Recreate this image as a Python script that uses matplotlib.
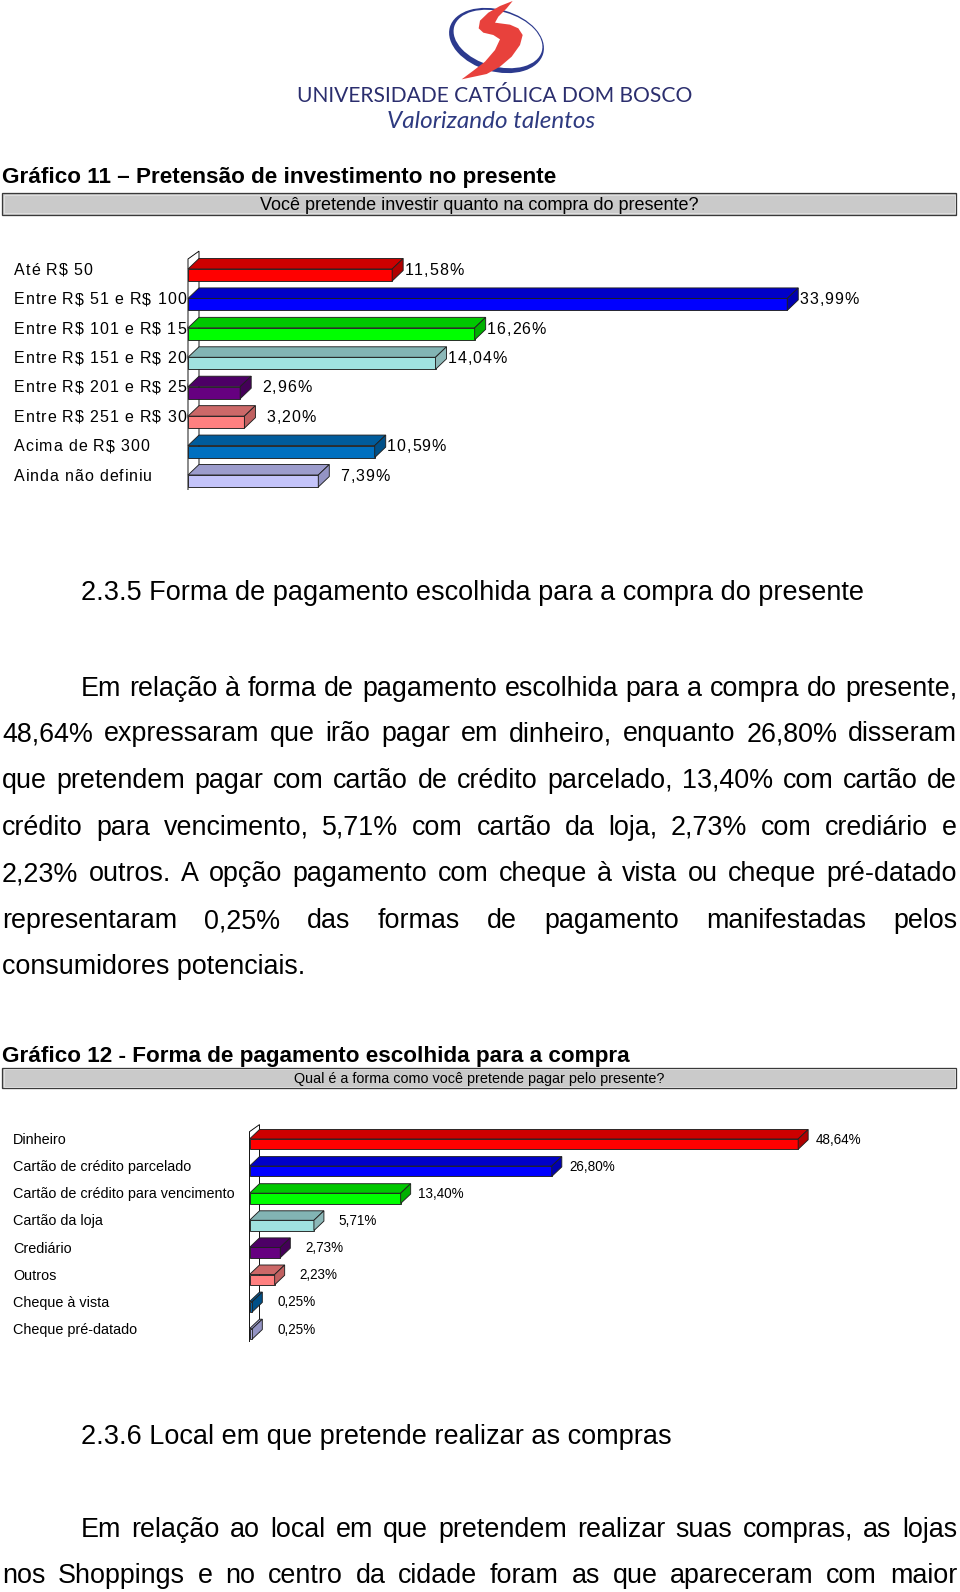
import matplotlib
matplotlib.use('Agg')
import matplotlib.pyplot as plt
from matplotlib.patches import Polygon, Rectangle, Ellipse
from matplotlib import font_manager
from matplotlib.font_manager import FontProperties, findfont, get_font
try:
    from matplotlib.ft2font import LoadFlags
    NOH = LoadFlags.NO_HINTING
except ImportError:
    from matplotlib.ft2font import LOAD_NO_HINTING as NOH

# ---------------- data ----------------
cats1 = ["Até R$ 50", "Entre R$ 51 e R$ 100", "Entre R$ 101 e R$ 150",
         "Entre R$ 151 e R$ 200", "Entre R$ 201 e R$ 250", "Entre R$ 251 e R$ 300",
         "Acima de R$ 300", "Ainda não definiu"]
vals1 = [11.58, 33.99, 16.26, 14.04, 2.96, 3.20, 10.59, 7.39]

cats2 = ["Dinheiro", "Cartão de crédito parcelado", "Cartão de crédito para vencimento",
         "Cartão da loja", "Crediário", "Outros", "Cheque à vista", "Cheque pré-datado"]
vals2 = [48.64, 26.80, 13.40, 5.71, 2.73, 2.23, 0.25, 0.25]

front_colors = ["#FF0000", "#0000FF", "#00FF00", "#A0E2E0",
                "#660080", "#FF8080", "#0070C0", "#C4C4FA"]
top_colors = ["#CC0000", "#0000C8", "#00C800", "#82B4B4",
              "#4D0066", "#CC6868", "#005C9C", "#9C9CCC"]
side_colors = ["#B00000", "#0000B0", "#00B000", "#8CB8B8",
               "#440058", "#C06060", "#005088", "#9494C4"]

title1 = "Gráfico 11 – Pretensão de investimento no presente"
question1 = "Você pretende investir quanto na compra do presente?"
heading1 = "2.3.5 Forma de pagamento escolhida para a compra do presente"
para1 = ["Em relação à forma de pagamento escolhida para a compra do presente,",
         "48,64% expressaram que irão pagar em dinheiro, enquanto 26,80% disseram",
         "que pretendem pagar com cartão de crédito parcelado, 13,40% com cartão de",
         "crédito para vencimento, 5,71% com cartão da loja, 2,73% com crediário e",
         "2,23% outros. A opção pagamento com cheque à vista ou cheque pré-datado",
         "representaram 0,25% das formas de pagamento manifestadas pelos",
         "consumidores potenciais."]
title2 = "Gráfico 12 - Forma de pagamento escolhida para a compra"
question2 = "Qual é a forma como você pretende pagar pelo presente?"
heading2 = "2.3.6 Local em que pretende realizar as compras"
para2 = ["Em relação ao local em que pretendem realizar suas compras, as lojas",
         "nos Shoppings e no centro da cidade foram as que apareceram com maior"]
logo_name = "UNIVERSIDADE CATÓLICA DOM BOSCO"
logo_motto = "Valorizando talentos"

# ---------------- setup ----------------
W, H, DPI = 960, 1592, 100
names = {f.name for f in font_manager.fontManager.ttflist}
SANS = "Liberation Sans"
NARROW = "Liberation Sans Narrow" if "Liberation Sans Narrow" in names else SANS
LOGOF = "Lato" if "Lato" in names else "DejaVu Sans"

fig = plt.figure(figsize=(W / DPI, H / DPI), dpi=DPI)
pg = fig.add_axes([0, 0, 1, 1])
pg.set_xlim(0, W)
pg.set_ylim(H, 0)
pg.axis('off')
renderer = fig.canvas.get_renderer()


def pt(px):
    return px * 72.0 / DPI


def twidth(s, size, **kw):
    t = pg.text(0, 0, s, fontsize=size, **kw)
    w = t.get_window_extent(renderer).width
    t.remove()
    return w


def fit(s, target, **kw):
    return 20.0 * target / twidth(s, 20.0, **kw)


def put(x, yc, s, size, ha='left', **kw):
    base = yc + 0.36 * size * DPI / 72.0
    return pg.text(x, base, s, fontsize=size, ha=ha, va='baseline', **kw)


def justified(line, left, right, yc, size, justify=True, **kw):
    words = line.split(' ')
    if not justify or len(words) == 1:
        put(left, yc, line, size, **kw)
        return
    ws = [twidth(w, size, **kw) for w in words]
    gap = (right - left - sum(ws)) / (len(words) - 1)
    x = left
    for i, (w, wd) in enumerate(zip(words, ws)):
        if i == len(words) - 1:
            put(right, yc, w, size, ha='right', **kw)
        else:
            put(x, yc, w, size, **kw)
        x += wd + gap


def spaced(x, yc, s, px, spacing, ha='left', clip=None, family=SANS, color='black'):
    font = get_font(findfont(FontProperties(family=family)))
    font.set_size(pt(px), DPI)
    advs = [font.load_char(ord(c), flags=NOH).linearHoriAdvance / 65536.0 for c in s]
    total = sum(advs) + spacing * (len(s) - 1)
    if ha == 'right':
        x -= total
    base = yc + 0.36 * px
    for c, a in zip(s, advs):
        if c != ' ':
            t = pg.text(x, base, c, fontsize=pt(px), family=family, va='baseline',
                        ha='left', color=color)
            if clip is not None:
                t.set_clip_path(clip)
        x += a + spacing


def to_page(ax, x, y):
    d = ax.transData.transform((x, y))
    return pg.transData.inverted().transform(d)


def bar3d(vals, x0, sx, xmax, row0_top, step, hf, dx, dy, wall_top, wall_bot):
    n = len(vals)
    c0 = row0_top + hf / 2.0
    ytop, ybot = -1.0, n - 0.4
    top_px = c0 + ytop * step
    bot_px = c0 + ybot * step
    ax = fig.add_axes([x0 / W, 1 - bot_px / H, sx * xmax / W, (bot_px - top_px) / H])
    ax.set_xlim(0, xmax)
    ax.set_ylim(ybot, ytop)
    ax.axis('off')
    h = hf / step
    ddx = dx / sx
    ddy = dy / step
    lw = pt(0.9)
    wt = (wall_top - c0) / step
    wb = (wall_bot - c0) / step
    ax.add_patch(Polygon([(0, wb), (0, wt), (ddx, wt - ddy * 0.75), (ddx, wb - ddy)],
                         closed=False, facecolor='white', edgecolor='black', lw=lw,
                         clip_on=False, zorder=1))
    ax.barh(range(n), vals, height=h, left=0, color=front_colors[:n],
            edgecolor='#202020', linewidth=lw, zorder=3, clip_on=False)
    for i, v in enumerate(vals):
        yt = i - h / 2
        ax.add_patch(Polygon([(0, yt), (v, yt), (v + ddx, yt - ddy), (ddx, yt - ddy)],
                             facecolor=top_colors[i], edgecolor='#202020', lw=lw,
                             clip_on=False, zorder=2))
        ax.add_patch(Polygon([(v, yt), (v + ddx, yt - ddy), (v + ddx, yt + h - ddy), (v, yt + h)],
                             facecolor=side_colors[i], edgecolor='#202020', lw=lw,
                             clip_on=False, zorder=4))
    return ax, h, ddx


def fmt(v):
    return ("%.2f" % v).replace('.', ',') + '%'


# ---------------- logo ----------------
pg.add_patch(Ellipse((496.5, 40.5), 97, 62, angle=15.8, facecolor='#2C3A8E', edgecolor='none'))
pg.add_patch(Ellipse((498.0, 39.0), 91, 55, angle=15.8, facecolor='white', edgecolor='none'))
s_zoom = [(248, 3), (230, 25), (205, 50), (195, 68), (240, 74), (265, 85), (278, 105),
          (270, 135), (245, 170), (210, 200), (170, 222), (95, 238), (130, 212),
          (165, 185), (195, 150), (210, 118), (190, 105), (160, 98), (146, 85),
          (150, 62), (175, 38), (210, 18)]
pg.add_patch(Polygon([(430 + x / 3.0, y / 3.0) for x, y in s_zoom],
                     facecolor='#E8413C', edgecolor='none'))
fs = fit(logo_name, 395, family=LOGOF)
pg.text(494.2, 101.7, logo_name, fontsize=fs, family=LOGOF, ha='center', va='baseline',
        color='#2B2E6E')
fs = fit(logo_motto, 208, family=LOGOF, style='italic')
pg.text(490.8, 127.5, logo_motto, fontsize=fs, family=LOGOF, style='italic',
        ha='center', va='baseline', color='#2E3A80')

# ---------------- titles / boxes ----------------
def title_box(title, tw, ty, question, qw, box_top, box_bot):
    fs = fit(title, tw, family=NARROW, weight='bold')
    put(2, ty, title, fs, family=NARROW, weight='bold')
    pg.add_patch(Rectangle((2, box_top), 954, box_bot - box_top, facecolor='#CACACA',
                           edgecolor='#3A3A3A', lw=pt(1.3)))
    pg.add_patch(Rectangle((3.5, box_top + 1.5), 951, box_bot - box_top - 3, facecolor='none',
                           edgecolor='#E4E4E4', lw=pt(0.8)))
    fs = fit(question, qw, family=NARROW)
    put(479.5, (box_top + box_bot) / 2.0, question, fs, ha='center', family=NARROW)


title_box(title1, 554, 174.5, question1, 438, 193, 214.5)
title_box(title2, 627, 1054.4, question2, 369, 1067.6, 1088)

# ---------------- chart 1 ----------------
ax1, h1, d1 = bar3d(vals1, 188, 17.63, 40, 269, 29.43, 12, 11, 10.5, 259, 490)
clip1 = Rectangle((0, 240), 187.5, 270, transform=pg.transData)
for i, (c, v) in enumerate(zip(cats1, vals1)):
    x, y = to_page(ax1, 0, i - h1 / 2)
    spaced(14, y, c, 16, 0.9, clip=clip1)
    xe, _ = to_page(ax1, v + d1, i)
    spaced(xe + 60, y, fmt(v), 16, 0.9, ha='right')

# ---------------- chart 2 ----------------
ax2, h2, d2 = bar3d(vals2, 249.5, 11.28, 60, 1139, 27.1, 10.3, 10, 9.5, 1131.7, 1342)
fl = fit(cats2[2], 220, family=SANS)
fv = fit("13,40%", 46, family=SANS)
for i, (c, v) in enumerate(zip(cats2, vals2)):
    x, y = to_page(ax2, 0, i - h2 / 2)
    put(13, y, c, fl, family=SANS)
    xe, _ = to_page(ax2, v + d2, i)
    put(xe + 53, y, fmt(v), fv, ha='right', family=SANS)

# ---------------- body text ----------------
fh = fit(heading1, 779.5, family=SANS)
put(81, 590.6, heading1, fh, family=SANS)
fp = fit(para1[-1], 302.5, family=SANS)
ys1 = [686, 731.7, 778.3, 825, 871.7, 918.4, 964]
for k, (line, y) in enumerate(zip(para1, ys1)):
    left = 81 if k == 0 else 2
    justified(line, left, 957, y, fp, justify=(k < len(para1) - 1), family=SANS)

put(81, 1434, heading2, fh, family=SANS)
ys2 = [1527, 1573]
for k, (line, y) in enumerate(zip(para2, ys2)):
    left = 81 if k == 0 else 2
    justified(line, left, 957, y, fp, justify=True, family=SANS)

fig.savefig("out.png", dpi=DPI, facecolor='white')
